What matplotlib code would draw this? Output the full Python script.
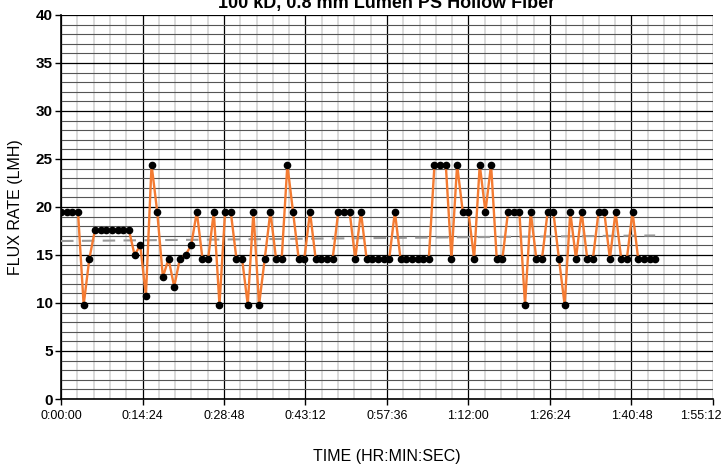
import numpy as np
import matplotlib
matplotlib.use("Agg")
import matplotlib.pyplot as plt
from matplotlib.ticker import MultipleLocator, FuncFormatter
from matplotlib.transforms import ScaledTranslation

# one reading per minute
minutes = np.arange(106)
flux = [19.5, 19.5, 19.5, 19.5, 9.8, 14.6,
        17.6, 17.6, 17.6, 17.6, 17.6, 17.6, 17.6,
        15.0, 16.0, 10.75, 24.4, 19.5, 12.7, 14.6, 11.7, 14.6, 15.0, 16.0,
        19.5, 14.6, 14.6, 19.5, 9.8, 19.5, 19.5, 14.6, 14.6, 9.8, 19.5, 9.8,
        14.6, 19.5, 14.6, 14.6, 24.4, 19.5, 14.6, 14.6, 19.5,
        14.6, 14.6, 14.6, 14.6, 19.5, 19.5, 19.5, 14.6, 19.5,
        14.6, 14.6, 14.6, 14.6, 14.6, 19.5,
        14.6, 14.6, 14.6, 14.6, 14.6, 14.6,
        24.4, 24.4, 24.4, 14.6, 24.4, 19.5, 19.5, 14.6, 24.4, 19.5, 24.4,
        14.6, 14.6, 19.5, 19.5, 19.5, 9.8, 19.5, 14.6, 14.6, 19.5, 19.5,
        14.6, 9.8, 19.5, 14.6, 19.5, 14.6, 14.6, 19.5, 19.5, 14.6, 19.5,
        14.6, 14.6, 19.5, 14.6, 14.6, 14.6, 14.6]
flux = np.array(flux)
secs = minutes * 60

title = "100 kD, 0.8 mm Lumen PS Hollow Fiber"
plt.rcParams['font.family'] = ['Liberation Sans', 'DejaVu Sans']

fig = plt.figure(figsize=(7.23, 4.67), dpi=100)
ax = fig.add_axes([0.0844, 0.1456, 0.9016, 0.8224])

# linear trend
k, b = np.polyfit(secs, flux, 1)
ax.plot([secs[0], secs[-1]], [k*secs[0]+b, k*secs[-1]+b], color='#999999',
        lw=1.5, dashes=(6, 4), zorder=3)
ax.plot(secs, flux, color='#F47B32', lw=1.7, zorder=4)
ax.plot(secs, flux, 'o', color='black', ms=4.5, zorder=5)

ax.set_xlim(0, 6912)
ax.set_ylim(0, 40)
xticks = np.arange(0, 6913, 864)
ax.set_xticks(xticks)
ax.xaxis.set_minor_locator(MultipleLocator(864/5))
ax.yaxis.set_major_locator(MultipleLocator(5))
ax.yaxis.set_minor_locator(MultipleLocator(1))

def hms(v, pos):
    v = int(round(v))
    return "%d:%02d:%02d" % (v // 3600, (v % 3600) // 60, v % 60)

ax.xaxis.set_major_formatter(FuncFormatter(hms))

ax.set_axisbelow(True)
ax.grid(which='minor', axis='x', color='#d4d4d4', lw=1.2)
ax.grid(which='minor', axis='y', color='#555555', lw=0.8)
ax.grid(which='major', color='black', lw=0.9)

for s in ['top', 'right']:
    ax.spines[s].set_visible(False)
ax.spines['left'].set_linewidth(1.2)
ax.spines['bottom'].set_linewidth(1.2)

ax.tick_params(which='minor', length=0)
ax.tick_params(which='major', length=4, width=1)
ax.tick_params(axis='x', labelsize=9, pad=4)
ax.tick_params(axis='y', labelsize=11, pad=2)
for lab in ax.get_yticklabels():
    lab.set_fontweight('bold')

fig.canvas.draw()
for lab in ax.get_xticklabels():
    if lab.get_text() == "1:55:12":
        lab.set_horizontalalignment('right')
        lab.set_transform(lab.get_transform() +
                          ScaledTranslation(9/100, 0, fig.dpi_scale_trans))

ax.set_ylabel("FLUX RATE (LMH)", fontsize=11.5, labelpad=9)
ax.set_xlabel("TIME (HR:MIN:SEC)", fontsize=11.5, labelpad=19)

fig.text(0.535, 0.982, title, ha='center', va='baseline', fontsize=13,
         fontweight='bold')

fig.savefig("out.png", dpi=100)
